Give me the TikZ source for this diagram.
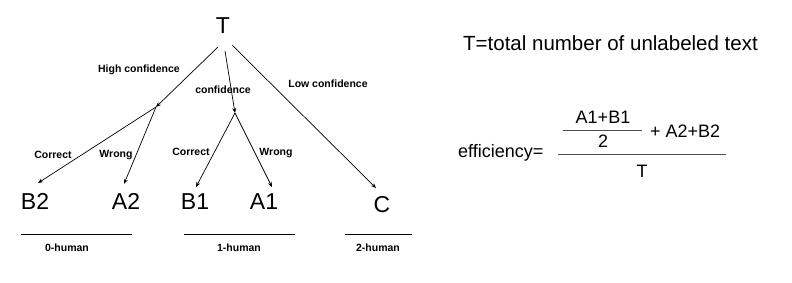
\documentclass[tikz,border=0pt]{standalone}
\usepackage{fontspec}
\setmainfont{Liberation Sans}
\usetikzlibrary{arrows.meta}
\begin{document}
\begin{tikzpicture}[x=1pt,y=-1pt,
  big/.style={font=\fontsize{23}{26}\selectfont, inner sep=0pt, anchor=base},
  lbl/.style={font=\fontsize{10.5}{12}\selectfont\bfseries, inner sep=0pt, anchor=base},
  eq/.style={font=\fontsize{18}{20}\selectfont, inner sep=0pt, anchor=base},
  arr/.style={-{Stealth[length=5pt,width=4pt]}, line width=0.7pt},
  rulel/.style={line width=0.7pt},
  fracl/.style={line width=0.8pt, draw=black!70}]
\useasboundingbox (0,0) rectangle (792,282);

% tree nodes
\node[big] (T) at (223,33) {T};
\node[big] (B2) at (35,209) {B2};
\node[big] (A2) at (126,209) {A2};
\node[big] (B1) at (195,209) {B1};
\node[big] (A1) at (264,209) {A1};
\node[big] (C) at (382,212) {C};

% connector end points
\coordinate (Ta) at (218,47);
\coordinate (Tb) at (225,51);
\coordinate (Tc) at (232,45);
\coordinate (h) at (156,107);
\coordinate (m) at (235,113);
\coordinate (B2e) at (38,183);
\coordinate (A2e) at (124,184);
\coordinate (B1e) at (196,187);
\coordinate (A1e) at (272,187);
\coordinate (Ce) at (376,188);

\draw[arr] (Ta) -- (h);
\draw[arr] (Tb) -- (m);
\draw[arr] (Tc) -- (Ce);
\draw[arr] (h) -- (B2e);
\draw[arr] (h) -- (A2e);
\draw[arr] (m) -- (B1e);
\draw[arr] (m) -- (A1e);

% labels
\node[lbl] (lhigh) at (139,72) {High confidence};
\node[lbl] (lmid) at (223,93) {confidence};
\node[lbl] (llow) at (328,87) {Low confidence};
\node[lbl] (lc1) at (53,158) {Correct};
\node[lbl] (lw1) at (116,157) {Wrong};
\node[lbl] (lc2) at (191,155) {Correct};
\node[lbl] (lw2) at (276,155) {Wrong};

% groups
\coordinate (g0a) at (21,234); \coordinate (g0b) at (132,234);
\coordinate (g1a) at (184,234); \coordinate (g1b) at (295,234);
\coordinate (g2a) at (345,234); \coordinate (g2b) at (412,234);
\draw[rulel] (g0a) -- (g0b);
\draw[rulel] (g1a) -- (g1b);
\draw[rulel] (g2a) -- (g2b);
\node[lbl] (h0) at (67,251) {0-human};
\node[lbl] (h1) at (239,251) {1-human};
\node[lbl] (h2) at (378,251) {2-human};

% right side
\node[font=\fontsize{20.5}{24}\selectfont, inner sep=0pt, anchor=base west] (def) at (463,50) {T=total number of unlabeled text};
\node[eq, anchor=base west] (eff) at (458,157) {efficiency=};
\node[eq] (num) at (603,123) {A1+B1};
\node[eq] (two) at (603,147) {2};
\node[eq, anchor=base west] (plus) at (650,137) {+ A2+B2};
\node[eq] (den) at (642,177) {T};
\coordinate (f1a) at (563,130); \coordinate (f1b) at (642,130);
\coordinate (f2a) at (558,154); \coordinate (f2b) at (726,154);
\draw[fracl] (f1a) -- (f1b);
\draw[fracl] (f2a) -- (f2b);
\end{tikzpicture}
\end{document}
